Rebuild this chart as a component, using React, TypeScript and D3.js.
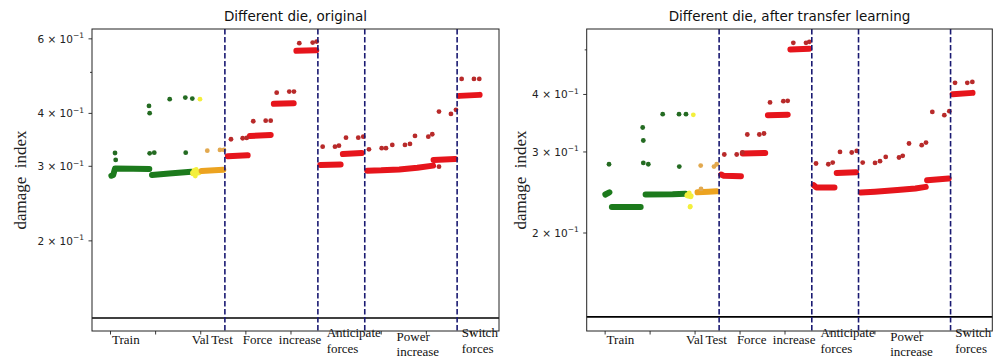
import React from "react";
import * as d3 from "d3";

// sample index of each point, damage index value
type P = [number, number];

// section boundaries (sample index) drawn as dashed lines
const boundaries = [2535, 4596, 5635, 7682];
const threshold = 0.1315;
const xTicks = [0, 1000, 2000, 3000, 4000, 5000, 6000, 7000, 8000];

// x category labels: text, sample index, anchor, row
const xLabels: [string, number, string, number][] = [
  ["Train", 340, "middle", 0],
  ["Val", 1800, "start", 0],
  ["Test", 2710, "end", 0],
  ["Force", 2930, "start", 0],
  ["increase", 3730, "start", 0],
  ["Anticipate", 4790, "start", 1],
  ["forces", 4790, "start", 2],
  ["Power", 6340, "start", 3],
  ["increase", 6340, "start", 4],
  ["Switch", 7785, "start", 1],
  ["forces", 7785, "start", 2],
];

// ---------- left: original ----------
const greenRunsL: P[][] = [
  [[20, 0.285], [60, 0.2862], [100, 0.2965], [500, 0.2962], [860, 0.2957]],
  [[920, 0.2862], [1300, 0.2885], [1790, 0.2914]],
];
const greenDotsL: P[] = [
  [100, 0.3225], [115, 0.3106], [853, 0.4167], [868, 0.4006], [868, 0.322],
  [970, 0.3231], [1312, 0.4321], [1658, 0.4359], [1813, 0.4336], [1667, 0.3231],
];
const yellowRunsL: P[][] = [[[1830, 0.289], [1960, 0.2905]]];
const yellowDotsL: P[] = [[1880, 0.2845], [1900, 0.295], [1850, 0.2935], [1983, 0.4321]];
const orangeRunsL: P[][] = [[[2020, 0.2925], [2300, 0.2935], [2500, 0.2945]]];
const orangeDotsL: P[] = [[2145, 0.3266], [2426, 0.3279], [2515, 0.3279]];
const redRunsL: P[][] = [
  [[2600, 0.317], [3040, 0.3185]],
  [[3090, 0.3538], [3550, 0.3557]],
  [[3620, 0.4213], [4060, 0.4225]],
  [[4120, 0.5621], [4560, 0.564]],
  [[4650, 0.3022], [5100, 0.303]],
  [[5150, 0.3208], [5570, 0.3225]],
  [[5690, 0.2929], [6000, 0.2935], [6400, 0.295], [6800, 0.2975], [7150, 0.3011]],
  [[7160, 0.3106], [7640, 0.3123]],
  [[7730, 0.44], [8180, 0.4424]],
];
const redDotsL: P[] = [
  [2670, 0.3475], [2929, 0.3494], [3018, 0.35], [3164, 0.3833], [3439, 0.3845],
  [3550, 0.3845], [3683, 0.4478], [3962, 0.4503], [4066, 0.4503], [4184, 0.5861],
  [4481, 0.5881], [4569, 0.5912], [4702, 0.3338], [4975, 0.3338], [5063, 0.3357],
  [5219, 0.3506], [5491, 0.3506], [5602, 0.3525], [5728, 0.3291], [6010, 0.331],
  [6105, 0.331], [6245, 0.3369], [6526, 0.3369], [6637, 0.3388], [6748, 0.3538],
  [7043, 0.3525], [7131, 0.3571], [7280, 0.4041], [7545, 0.3989], [7656, 0.4079],
  [7280, 0.2994], [7782, 0.4826], [8055, 0.4826], [8173, 0.4826],
];

// ---------- right: after transfer learning ----------
const greenRunsR: P[][] = [
  [[5, 0.2425], [95, 0.2452]],
  [[150, 0.2278], [790, 0.2278]],
  [[900, 0.2424], [1500, 0.2428], [1790, 0.2435]],
];
const greenDotsR: P[] = [
  [86, 0.2821], [835, 0.3391], [849, 0.3177], [849, 0.284], [960, 0.2821],
  [1280, 0.3624], [1643, 0.3624], [1798, 0.3624], [1649, 0.2789],
];
const yellowRunsR: P[][] = [[[1830, 0.2415], [1900, 0.2405]]];
const yellowDotsR: P[] = [[1870, 0.2445], [1887, 0.2278], [1895, 0.2285], [1961, 0.3612]];
const orangeRunsR: P[][] = [[[2055, 0.2452], [2300, 0.2458], [2480, 0.2464]]];
const orangeDotsR: P[] = [[2132, 0.2493], [2125, 0.2803], [2421, 0.2789], [2481, 0.2821]];
const redRunsR: P[][] = [
  [[2580, 0.268], [2640, 0.2662], [3020, 0.2658]],
  [[3060, 0.2977], [3560, 0.2985]],
  [[3620, 0.3606], [4060, 0.3615]],
  [[4120, 0.5011], [4540, 0.503]],
  [[4640, 0.254], [4700, 0.2511], [5100, 0.2511]],
  [[5150, 0.2702], [5580, 0.271]],
  [[5690, 0.2449], [6000, 0.246], [6500, 0.248], [6900, 0.25], [7130, 0.2519]],
  [[7160, 0.2605], [7640, 0.2627]],
  [[7730, 0.4006], [8170, 0.4032]],
];
const redDotsR: P[] = [
  [2650, 0.2962], [2926, 0.2962], [3051, 0.2992], [3162, 0.3274], [3429, 0.3274],
  [3533, 0.329], [3667, 0.3843], [3963, 0.3868], [4060, 0.3874], [4185, 0.518],
  [4467, 0.518], [4541, 0.5206], [4690, 0.2832], [4963, 0.2821], [5061, 0.2845],
  [5223, 0.3], [5484, 0.2992], [5595, 0.3016], [5728, 0.2845], [6002, 0.284],
  [6113, 0.2865], [6240, 0.2927], [6535, 0.2918], [6618, 0.2942], [6758, 0.313],
  [7040, 0.3103], [7136, 0.3145], [7276, 0.3666], [7543, 0.3606], [7654, 0.3679],
  [7781, 0.4239], [8054, 0.4239], [8166, 0.426],
];

const COLORS = {
  green: "#1c7a1c",
  greenDot: "#246b22",
  yellow: "#f3ef3c",
  orange: "#eca320",
  orangeDot: "#e2a94f",
  red: "#e6151c",
  redDot: "#b82a2a",
};

const rowBaseline = [343.5, 337, 353, 341, 356];
const sans = "DejaVu Sans, sans-serif";
const serif = "Liberation Serif, Times New Roman, serif";

type PanelProps = {
  title: string;
  left: number;
  right: number;
  yMax: number;
  yTicks: number[];
  yLabelX: number;
  layers: { runs: P[][]; dots: P[]; run: string; dot: string }[];
};

const Panel = ({ title, left, right, yMax, yTicks, yLabelX, layers }: PanelProps) => {
  const top = 29;
  const bottom = 331;
  const x = d3.scaleLinear().domain([-410, 8610]).range([left, right]);
  const y = d3.scaleLog().domain([0.1225, yMax]).range([bottom, top]);
  const line = d3
    .line<P>()
    .x((d) => x(d[0]))
    .y((d) => y(d[1]));

  return (
    <g>
      <text x={(left + right) / 2} y={21} textAnchor="middle" fontFamily={sans} fontSize={13.5} fill="#111">
        {title}
      </text>
      {/* threshold */}
      <line x1={left} x2={right} y1={y(threshold)} y2={y(threshold)} stroke="#000" strokeWidth={1.6} />
      {/* data */}
      {layers.map((l, i) => (
        <g key={i}>
          {l.runs.map((r, j) => (
            <path key={j} d={line(r) || ""} fill="none" stroke={l.run} strokeWidth={6} strokeLinecap="round" strokeLinejoin="round" />
          ))}
          {l.dots.map((d, j) => (
            <circle key={j} cx={x(d[0])} cy={y(d[1])} r={2.4} fill={l.dot} />
          ))}
        </g>
      ))}
      {boundaries.map((b) => (
        <line key={b} x1={x(b)} x2={x(b)} y1={top} y2={bottom} stroke="#1a1a72" strokeWidth={1.6} strokeDasharray="5.5,2.5" />
      ))}
      {/* frame */}
      <rect x={left} y={top} width={right - left} height={bottom - top} fill="none" stroke="#222" strokeWidth={1} />
      {/* y ticks */}
      {yTicks.map((t) => (
        <g key={t}>
          <line x1={left - (t === 0.5 ? 2 : 3.5)} x2={left} y1={y(t)} y2={y(t)} stroke="#222" strokeWidth={0.9} />
          {t !== 0.5 && (
            <text x={left - 8} y={y(t) + 3.8} textAnchor="end" fontFamily={sans} fontSize={10.5} fill="#222">
              {`${Math.round(t * 10)} × 10`}
              <tspan fontSize={7.5} dy={-4.5}>−1</tspan>
            </text>
          )}
        </g>
      ))}
      {/* x ticks */}
      {xTicks.map((t) => (
        <line key={t} x1={x(t)} x2={x(t)} y1={bottom} y2={bottom + 3.5} stroke="#222" strokeWidth={0.9} />
      ))}
      {xLabels.map(([s, v, anchor, row], i) => (
        <text key={i} x={x(v)} y={rowBaseline[row]} textAnchor={anchor} fontFamily={serif} fontSize={13} fill="#111">
          {s}
        </text>
      ))}
      <text
        transform={`translate(${yLabelX},${(top + bottom) / 2}) rotate(-90)`}
        textAnchor="middle"
        fontFamily={serif}
        fontSize={17}
        fill="#222"
        style={{ whiteSpace: "pre" }}
      >
        {"damage  index"}
      </text>
    </g>
  );
};

const App = () => {
  return (
    <svg width={998} height={358} style={{ position: "absolute", left: 0, top: 0, background: "#fff" }}>
      <Panel
        title="Different die, original"
        left={92}
        right={499}
        yMax={0.633}
        yTicks={[0.2, 0.3, 0.4, 0.5, 0.6]}
        yLabelX={26}
        layers={[
          { runs: greenRunsL, dots: greenDotsL, run: COLORS.green, dot: COLORS.greenDot },
          { runs: yellowRunsL, dots: yellowDotsL, run: COLORS.yellow, dot: COLORS.yellow },
          { runs: orangeRunsL, dots: orangeDotsL, run: COLORS.orange, dot: COLORS.orangeDot },
          { runs: redRunsL, dots: redDotsL, run: COLORS.red, dot: COLORS.redDot },
        ]}
      />
      <Panel
        title="Different die, after transfer learning"
        left={586.7}
        right={992.3}
        yMax={0.555}
        yTicks={[0.2, 0.3, 0.4, 0.5]}
        yLabelX={526}
        layers={[
          { runs: greenRunsR, dots: greenDotsR, run: COLORS.green, dot: COLORS.greenDot },
          { runs: yellowRunsR, dots: yellowDotsR, run: COLORS.yellow, dot: COLORS.yellow },
          { runs: orangeRunsR, dots: orangeDotsR, run: COLORS.orange, dot: COLORS.orangeDot },
          { runs: redRunsR, dots: redDotsR, run: COLORS.red, dot: COLORS.redDot },
        ]}
      />
    </svg>
  );
};

export default App;
